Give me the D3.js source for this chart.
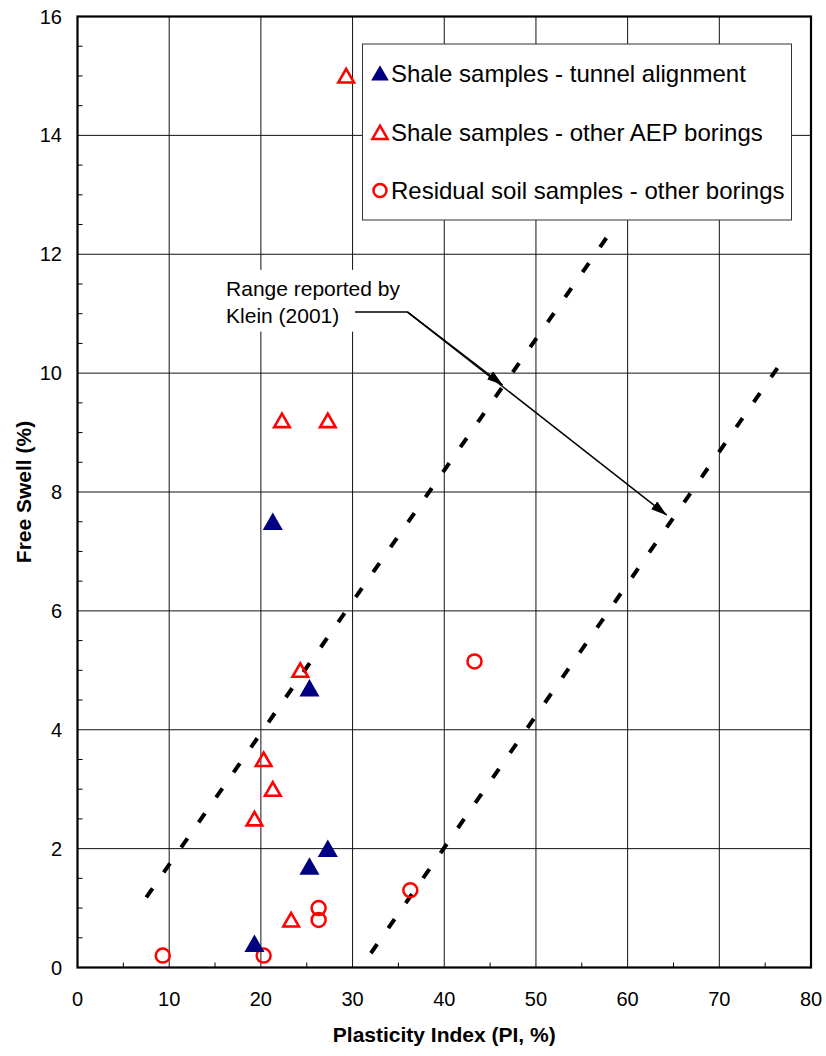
<!DOCTYPE html>
<html>
<head>
<meta charset="utf-8">
<script src="https://cdn.jsdelivr.net/npm/d3@7"></script>
<style>
  html, body { margin: 0; padding: 0; background: #fff; }
  svg { display: block; font-family: "Liberation Sans", Arial, sans-serif; }
</style>
</head>
<body>
<div id="chart"></div>
<script>
// data
const tunnelPI = [21.3, 25.3, 27.3, 25.3, 19.3];
const tunnelSwell = [7.5, 4.7, 2.0, 1.7, 0.4];

const aepPI = [29.3, 22.3, 27.3, 24.3, 20.3, 21.3, 19.3, 23.3];
const aepSwell = [15.0, 9.2, 9.2, 5.0, 3.5, 3.0, 2.5, 0.8];

const soilPI = [9.3, 20.3, 26.3, 26.3, 36.3, 43.3];
const soilSwell = [0.2, 0.2, 1.0, 0.8, 1.3, 5.15];

// Klein (2001) range, two parallel bounds [PI, swell]
const kleinLower = [[7.5, 1.18], [57.8, 12.3]];
const kleinUpper = [[32.0, 0.24], [76.4, 10.1]];

const legendLabels = [
  "Shale samples - tunnel alignment",
  "Shale samples - other AEP borings",
  "Residual soil samples - other borings"
];

const xTicks = [0, 10, 20, 30, 40, 50, 60, 70, 80];
const yTicks = [0, 2, 4, 6, 8, 10, 12, 14, 16];

const width = 826;
const height = 1056;
const margin = { top: 16.5, right: 15, bottom: 88.5, left: 77.5 };

const navy = "#000080";
const red = "#ff0000";

const svg = d3.select("#chart")
  .append("svg")
  .attr("width", width)
  .attr("height", height);

const x = d3.scaleLinear().domain([0, 80]).range([margin.left, width - margin.right]);
const y = d3.scaleLinear().domain([0, 16]).range([height - margin.bottom, margin.top]);

// grid
svg.append("g")
  .selectAll("line")
  .data(xTicks.slice(1, -1))
  .join("line")
  .attr("x1", d => x(d)).attr("x2", d => x(d))
  .attr("y1", y(0)).attr("y2", y(16))
  .attr("stroke", "#111").attr("stroke-width", 1);

svg.append("g")
  .selectAll("line")
  .data(yTicks.slice(1, -1))
  .join("line")
  .attr("x1", x(0)).attr("x2", x(80))
  .attr("y1", d => y(d)).attr("y2", d => y(d))
  .attr("stroke", "#111").attr("stroke-width", 1);

// minor ticks (inside)
svg.append("g")
  .selectAll("line")
  .data(d3.range(1, 32).map(i => i * 0.5).filter(v => v % 2 !== 0))
  .join("line")
  .attr("x1", x(0)).attr("x2", x(0) + 5)
  .attr("y1", d => y(d)).attr("y2", d => y(d))
  .attr("stroke", "#000");

svg.append("g")
  .selectAll("line")
  .data(d3.range(5, 80, 10))
  .join("line")
  .attr("x1", d => x(d)).attr("x2", d => x(d))
  .attr("y1", y(0)).attr("y2", y(0) - 5)
  .attr("stroke", "#000");

// frame
svg.append("rect")
  .attr("x", x(0)).attr("y", y(16))
  .attr("width", x(80) - x(0)).attr("height", y(0) - y(16))
  .attr("fill", "none").attr("stroke", "#000").attr("stroke-width", 2.2);

// tick labels
svg.append("g")
  .selectAll("text")
  .data(xTicks)
  .join("text")
  .attr("x", d => x(d))
  .attr("y", y(0) + 38.5)
  .attr("text-anchor", "middle")
  .style("font-size", "20px")
  .text(d => d);

svg.append("g")
  .selectAll("text")
  .data(yTicks)
  .join("text")
  .attr("x", x(0) - 15.5)
  .attr("y", d => y(d))
  .attr("dy", "0.35em")
  .attr("text-anchor", "end")
  .style("font-size", "20px")
  .text(d => d);

// axis titles
svg.append("text")
  .attr("x", (x(0) + x(80)) / 2)
  .attr("y", 1042)
  .attr("text-anchor", "middle")
  .style("font-size", "21px")
  .style("font-weight", "bold")
  .text("Plasticity Index (PI, %)");

svg.append("text")
  .attr("transform", "translate(31," + (y(0) + y(16)) / 2 + ") rotate(-90)")
  .attr("text-anchor", "middle")
  .style("font-size", "21px")
  .style("font-weight", "bold")
  .text("Free Swell (%)");

// Klein range lines
const line = d3.line().x(d => x(d[0])).y(d => y(d[1]));
[kleinLower, kleinUpper].forEach(seg => {
  svg.append("path")
    .attr("d", line(seg))
    .attr("fill", "none")
    .attr("stroke", "#000")
    .attr("stroke-width", 4)
    .attr("stroke-dasharray", "11,19.5");
});

// annotation
const note = svg.append("g");
const noteBg = note.append("rect").attr("fill", "#fff");
const noteText = note.append("text")
  .style("font-size", "21px")
  .attr("x", x(16.2));
noteText.append("tspan").attr("x", x(16.2)).attr("y", y(11.3)).text("Range reported by");
noteText.append("tspan").attr("x", x(16.2)).attr("y", y(10.85)).text("Klein (2001)");
const bb = noteText.node().getBBox();
noteBg.attr("x", bb.x - 9).attr("y", bb.y - 7)
  .attr("width", bb.width + 16).attr("height", bb.height + 12);

svg.append("defs").append("marker")
  .attr("id", "arrowHead")
  .attr("viewBox", "0 0 16 10")
  .attr("refX", 16).attr("refY", 5)
  .attr("markerWidth", 16).attr("markerHeight", 10)
  .attr("markerUnits", "userSpaceOnUse")
  .attr("orient", "auto")
  .append("path")
  .attr("d", "M0,0 L16,5 L0,10 Z")
  .attr("fill", "#000");

svg.append("line")
  .attr("x1", x(30.27)).attr("y1", y(11.03))
  .attr("x2", x(35.97)).attr("y2", y(11.03))
  .attr("stroke", "#000").attr("stroke-width", 1.5);

[[46.38, 9.8], [64.27, 7.61]].forEach(p => {
  svg.append("line")
    .attr("x1", x(35.97)).attr("y1", y(11.03))
    .attr("x2", x(p[0])).attr("y2", y(p[1]))
    .attr("stroke", "#000").attr("stroke-width", 1.5)
    .attr("marker-end", "url(#arrowHead)");
});

// markers
const triFilled = d3.symbol().type(d3.symbolTriangle).size(175);
const triOpen = d3.symbol().type(d3.symbolTriangle).size(105);

svg.append("g")
  .selectAll("path")
  .data(aepPI.map((v, i) => [v, aepSwell[i]]))
  .join("path")
  .attr("d", triOpen)
  .attr("transform", d => "translate(" + x(d[0]) + "," + (y(d[1]) + 2) + ")")
  .attr("fill", "none")
  .attr("stroke", red)
  .attr("stroke-width", 2.6);

svg.append("g")
  .selectAll("circle")
  .data(soilPI.map((v, i) => [v, soilSwell[i]]))
  .join("circle")
  .attr("cx", d => x(d[0]))
  .attr("cy", d => y(d[1]))
  .attr("r", 7)
  .attr("fill", "none")
  .attr("stroke", red)
  .attr("stroke-width", 2.5);

svg.append("g")
  .selectAll("path")
  .data(tunnelPI.map((v, i) => [v, tunnelSwell[i]]))
  .join("path")
  .attr("d", triFilled)
  .attr("transform", d => "translate(" + x(d[0]) + "," + (y(d[1]) + 2.5) + ")")
  .attr("fill", navy);

// legend
const legend = svg.append("g").attr("transform", "translate(362.5,44)");
legend.append("rect")
  .attr("width", 429).attr("height", 176)
  .attr("fill", "#fff")
  .attr("stroke", "#333").attr("stroke-width", 1);

const rows = [29.5, 88.5, 146.5];
legend.append("path")
  .attr("d", d3.symbol().type(d3.symbolTriangle).size(135)())
  .attr("transform", "translate(17.5," + (rows[0] + 2) + ")")
  .attr("fill", navy);
legend.append("path")
  .attr("d", d3.symbol().type(d3.symbolTriangle).size(100)())
  .attr("transform", "translate(17.5," + (rows[1] + 2) + ")")
  .attr("fill", "none").attr("stroke", red).attr("stroke-width", 2.5);
legend.append("circle")
  .attr("cx", 17.5).attr("cy", rows[2])
  .attr("r", 6.5)
  .attr("fill", "none").attr("stroke", red).attr("stroke-width", 2.5);

legend.selectAll("text.lbl")
  .data(legendLabels)
  .join("text")
  .attr("class", "lbl")
  .attr("x", 28.5)
  .attr("y", (d, i) => rows[i] + 8.5)
  .style("font-size", "24px")
  .text(d => d);
</script>
</body>
</html>
